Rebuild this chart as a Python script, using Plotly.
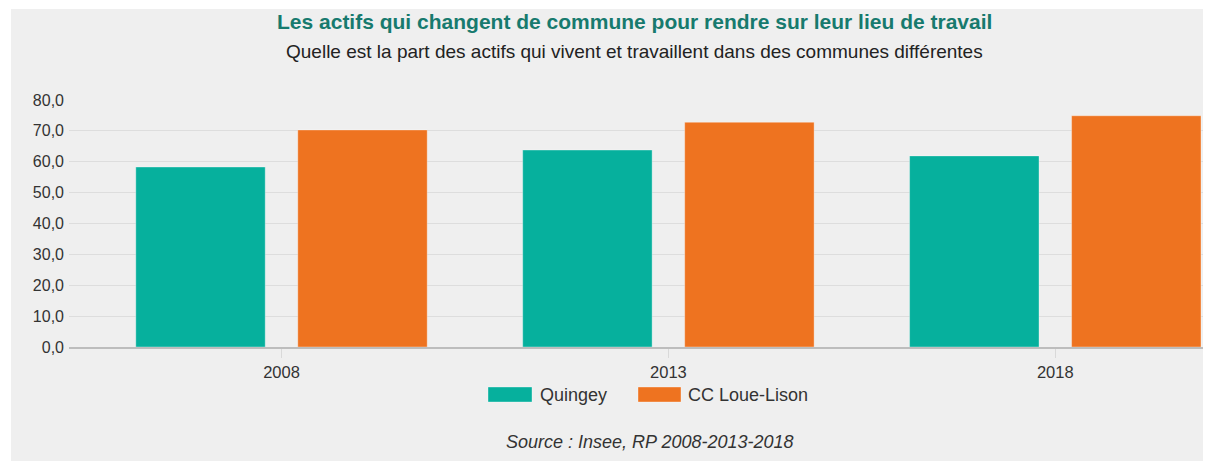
import plotly.graph_objects as go

# data
years = ["2008", "2013", "2018"]
quingey = [58.3, 63.8, 61.9]
cc_loue_lison = [70.3, 72.8, 74.9]
y_ticks = [0, 10, 20, 30, 40, 50, 60, 70, 80]

TEAL = "#06b09d"
ORANGE = "#ee7320"
BG = "#efefef"
TEXT = "#333333"
FONT = "Arial, Liberation Sans, sans-serif"

# the page body has an 8px margin, so the figure sits at (8, 8) in the window;
# all pixel positions below are window pixels and get shifted by OFF
OFF = 8
W, H = 1211 - OFF, 461 - OFF
PLOT_L, PLOT_R, PLOT_T, PLOT_B = 69, 1211, 100, 347


def px_x(x):
    return (x - PLOT_L) / (PLOT_R - PLOT_L)


def px_y(y):
    return (PLOT_B - y) / (PLOT_B - PLOT_T)


bar_line = {"color": "rgba(255,255,255,0.35)", "width": 1}

fig = go.Figure()
fig.add_trace(go.Bar(name="Quingey", x=years, y=quingey, marker_color=TEAL,
                     marker_line=bar_line))
fig.add_trace(go.Bar(name="CC Loue-Lison", x=years, y=cc_loue_lison, marker_color=ORANGE,
                     marker_line=bar_line))

shapes = [
    # white strips around the grey card (page margin supplies the first 8px)
    {"type": "rect", "xref": "paper", "yref": "paper", "layer": "below",
     "x0": px_x(OFF), "x1": px_x(1211), "y0": px_y(OFF), "y1": px_y(9),
     "fillcolor": "white", "line": {"width": 0}},
    {"type": "rect", "xref": "paper", "yref": "paper", "layer": "below",
     "x0": px_x(OFF), "x1": px_x(11), "y0": px_y(OFF), "y1": px_y(461),
     "fillcolor": "white", "line": {"width": 0}},
    # legend swatches
    {"type": "rect", "xref": "paper", "yref": "paper",
     "x0": px_x(488), "x1": px_x(532), "y0": px_y(387), "y1": px_y(402),
     "fillcolor": TEAL, "line": bar_line},
    {"type": "rect", "xref": "paper", "yref": "paper",
     "x0": px_x(638), "x1": px_x(681), "y0": px_y(387), "y1": px_y(402),
     "fillcolor": ORANGE, "line": bar_line},
]


def note(text, x, y, size, color=TEXT, anchor="center"):
    return {"text": text, "x": px_x(x), "y": px_y(y), "xref": "paper", "yref": "paper",
            "xanchor": anchor, "yanchor": "middle", "showarrow": False,
            "font": {"family": FONT, "size": size, "color": color}}


annotations = [
    note("<b>Les actifs qui changent de commune pour rendre sur leur lieu de travail</b>",
         634, 21, 21, "#177a6e"),
    note("Quelle est la part des actifs qui vivent et travaillent dans des communes différentes",
         634, 52, 19, "#222222"),
    note("Quingey", 538, 395, 18, anchor="left"),
    note("CC Loue-Lison", 686, 395, 18, anchor="left"),
    note("<i>Source : Insee, RP 2008-2013-2018</i>", 650, 442, 18),
]

# category axis: 2008 centred at x=281.5px, 386.9px per category
step = 386.9
x_lo = (PLOT_L - 281.5) / step
x_hi = (PLOT_R - 281.5) / step

fig.update_layout(
    width=W,
    height=H,
    margin={"l": PLOT_L - OFF, "r": 0, "t": PLOT_T - OFF, "b": 461 - PLOT_B, "pad": 0},
    paper_bgcolor=BG,
    plot_bgcolor=BG,
    showlegend=False,
    barmode="group",
    bargap=0.1626,
    bargroupgap=0.201,
    separators=",.",
    font={"family": FONT, "size": 16, "color": TEXT},
    xaxis={
        "type": "category",
        "range": [x_lo, x_hi],
        "showgrid": False,
        "showline": True,
        "linecolor": "#bdbdbd",
        "linewidth": 2,
        "ticks": "outside",
        "ticklen": 9,
        "tickcolor": "#d9d9d9",
        "tickwidth": 1,
        "tickfont": {"size": 16.5, "color": TEXT},
        "fixedrange": True,
    },
    yaxis={
        "range": [0, 80],
        "tickvals": y_ticks,
        "tickformat": ".1f",
        "showgrid": True,
        "gridcolor": "#dddddd",
        "gridwidth": 1,
        "zeroline": False,
        "showline": False,
        "ticks": "",
        "ticklabelstandoff": 4,
        "tickfont": {"size": 16, "color": TEXT},
        "fixedrange": True,
    },
    shapes=shapes,
    annotations=annotations,
)

fig.write_html("out.html")
